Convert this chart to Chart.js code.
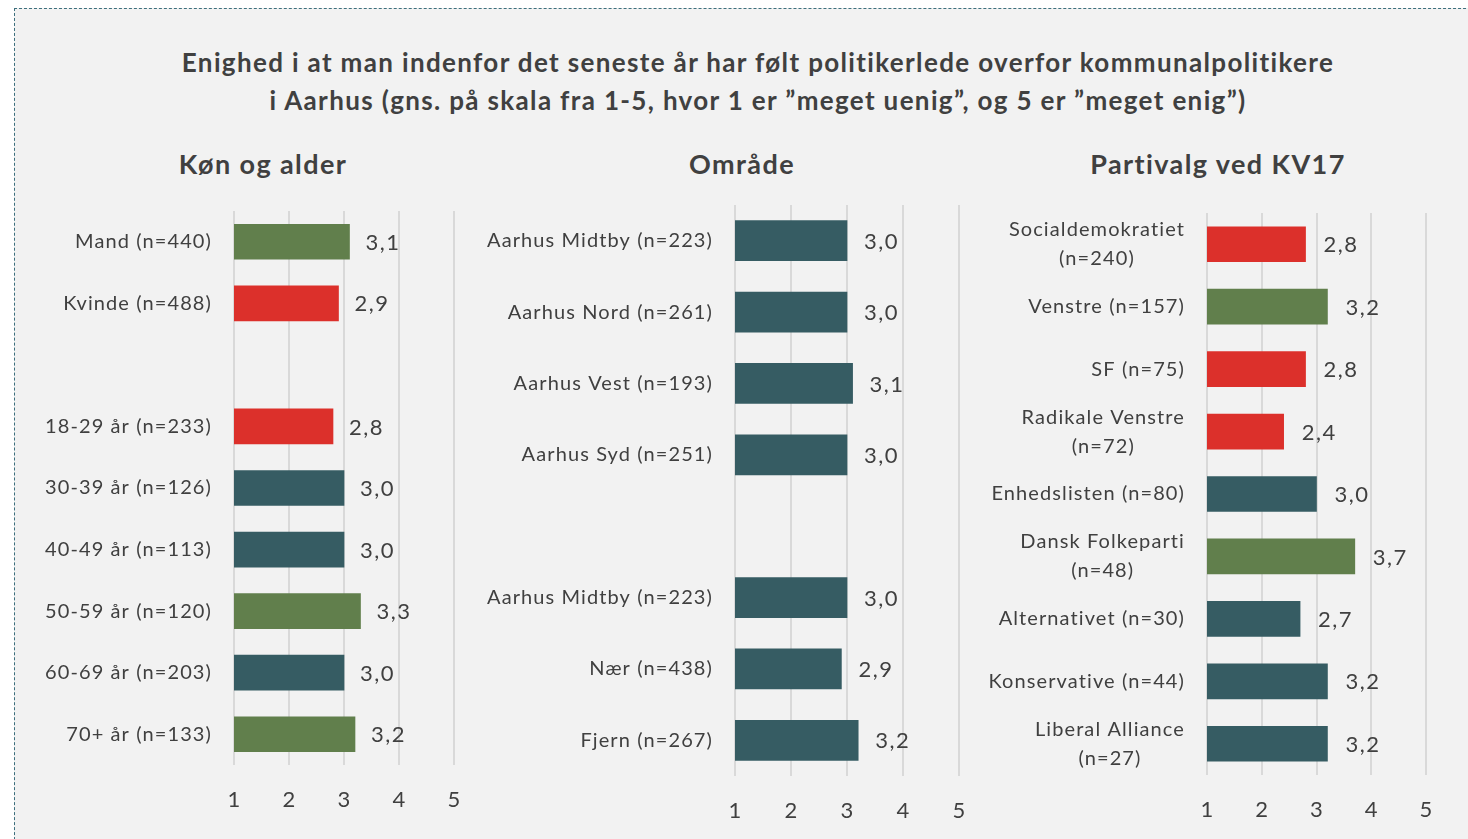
<!DOCTYPE html>
<html>
<head>
<meta charset="utf-8">
<script src="https://cdn.jsdelivr.net/npm/chart.js@4"></script>
<style>
body { margin:0; background:#fff; width:1468px; height:839px; overflow:hidden; position:relative; font-family:Lato, sans-serif; color:#404040; }
#frame { position:absolute; left:14px; top:8px; width:1500px; height:900px; border:1px dashed #3d6f7d; background:#f2f2f2; }
.title { position:absolute; left:0; width:1516px; top:43px; text-align:center; font-weight:bold; font-size:26px; line-height:38px; letter-spacing:1.35px; }
.sub { position:absolute; top:147px; width:400px; text-align:center; font-weight:bold; font-size:27px; letter-spacing:1.4px; }
canvas { position:absolute; }
</style>
</head>
<body>
<div id="frame"></div>
<div class="title">Enighed i at man indenfor det seneste år har følt politikerlede overfor kommunalpolitikere<br>i Aarhus (gns. på skala fra 1-5, hvor 1 er ”meget uenig”, og 5 er ”meget enig”)</div>
<div class="sub" style="left:63px">Køn og alder</div>
<div class="sub" style="left:542px">Område</div>
<div class="sub" style="left:1018px">Partivalg ved KV17</div>
<canvas id="c1" width="460" height="659" style="left:20px;top:180px"></canvas>
<canvas id="c2" width="500" height="659" style="left:480px;top:180px"></canvas>
<canvas id="c3" width="480" height="659" style="left:980px;top:180px"></canvas>
<script>
// data
const koenLabels = ['Mand (n=440)', 'Kvinde (n=488)', '', '18-29 år (n=233)', '30-39 år (n=126)', '40-49 år (n=113)', '50-59 år (n=120)', '60-69 år (n=203)', '70+ år (n=133)'];
const koenValues = [3.1, 2.9, null, 2.8, 3.0, 3.0, 3.3, 3.0, 3.2];

const omraadeLabels = ['Aarhus Midtby (n=223)', 'Aarhus Nord (n=261)', 'Aarhus Vest (n=193)', 'Aarhus Syd (n=251)', '', 'Aarhus Midtby (n=223)', 'Nær (n=438)', 'Fjern (n=267)'];
const omraadeValues = [3.0, 3.0, 3.1, 3.0, null, 3.0, 2.9, 3.2];

const partiLabels = [['Socialdemokratiet', '(n=240)'], 'Venstre (n=157)', 'SF (n=75)', ['Radikale Venstre', '(n=72)'], 'Enhedslisten (n=80)', ['Dansk Folkeparti', '(n=48)'], 'Alternativet (n=30)', 'Konservative (n=44)', ['Liberal Alliance', '(n=27)']];
const partiValues = [2.8, 3.2, 2.8, 2.4, 3.0, 3.7, 2.7, 3.2, 3.2];

const xTicks = [1, 2, 3, 4, 5];

// colours
const G = '#617f4c', R = '#dc302b', T = '#365c63';
const koenColors = [G, R, T, R, T, T, G, T, G];
const omraadeColors = omraadeValues.map(() => T);
const partiColors = [R, G, R, R, T, G, T, T, T];

const textColor = '#404040';
const fontFam = 'Lato, sans-serif';

const labelPlugin = {
  id: 'labelPlugin',
  afterDatasetsDraw(chart, args, opts) {
    const ctx = chart.ctx;
    const meta = chart.getDatasetMeta(0);
    const yScale = chart.scales.y;
    const area = chart.chartArea;
    ctx.save();
    ctx.fillStyle = textColor;
    ctx.textBaseline = 'middle';
    // values
    ctx.font = '22px ' + fontFam;
    ctx.letterSpacing = '1.5px';
    ctx.textAlign = 'left';
    chart.data.datasets[0].data.forEach((v, i) => {
      if (v == null) return;
      const bar = meta.data[i];
      ctx.fillText(v.toFixed(1).replace('.', ','), bar.x + opts.gap, bar.y + 1);
    });
    // categories
    ctx.font = '20px ' + fontFam;
    ctx.letterSpacing = '1.1px';
    ctx.textAlign = 'center';
    chart.data.labels.forEach((lab, i) => {
      const lines = Array.isArray(lab) ? lab : [lab];
      const w = Math.max(...lines.map(l => ctx.measureText(l).width));
      const cx = area.left - opts.labelGap - w / 2;
      const yc = yScale.getPixelForValue(i);
      const lh = 29;
      lines.forEach((l, k) => {
        ctx.fillText(l, cx, yc + (k - (lines.length - 1) / 2) * lh);
      });
    });
    ctx.restore();
  }
};

function makeChart(id, labels, values, colors, lay) {
  new Chart(document.getElementById(id), {
    type: 'bar',
    data: {
      labels: labels,
      datasets: [{
        data: values,
        backgroundColor: colors,
        barThickness: lay.bar,
        borderWidth: 0
      }]
    },
    options: {
      indexAxis: 'y',
      responsive: false,
      animation: false,
      devicePixelRatio: 1,
      layout: { padding: { top: lay.top, right: lay.right, bottom: lay.bottom, left: 0 } },
      plugins: {
        legend: { display: false },
        tooltip: { enabled: false },
        labelPlugin: { gap: lay.gap, labelGap: 22 }
      },
      scales: {
        x: {
          min: 1, max: 5,
          afterBuildTicks: s => { s.ticks = xTicks.map(v => ({ value: v })); },
          afterFit: s => { s.height = lay.xh; s.paddingLeft = 0; s.paddingRight = 0; },
          grid: { color: '#d9d9d9', lineWidth: 2, drawTicks: false },
          border: { display: false },
          ticks: { color: textColor, font: { size: 22, family: fontFam }, padding: lay.tickPad }
        },
        y: {
          afterFit: s => { s.width = lay.yw; s.paddingTop = 0; s.paddingBottom = 0; },
          grid: { display: false },
          border: { display: false },
          ticks: { display: false }
        }
      }
    },
    plugins: [labelPlugin]
  });
}

makeChart('c1', koenLabels, koenValues, koenColors,
  { yw: 214, top: 31, right: 26, bottom: 14, xh: 60, bar: 35, gap: 16, tickPad: 22 });
makeChart('c2', omraadeLabels, omraadeValues, omraadeColors,
  { yw: 255, top: 25, right: 21, bottom: 8, xh: 55, bar: 40, gap: 17, tickPad: 22 });
makeChart('c3', partiLabels, partiValues, partiColors,
  { yw: 227, top: 33, right: 34, bottom: 8, xh: 56, bar: 35, gap: 18, tickPad: 22 });
</script>
</body>
</html>
